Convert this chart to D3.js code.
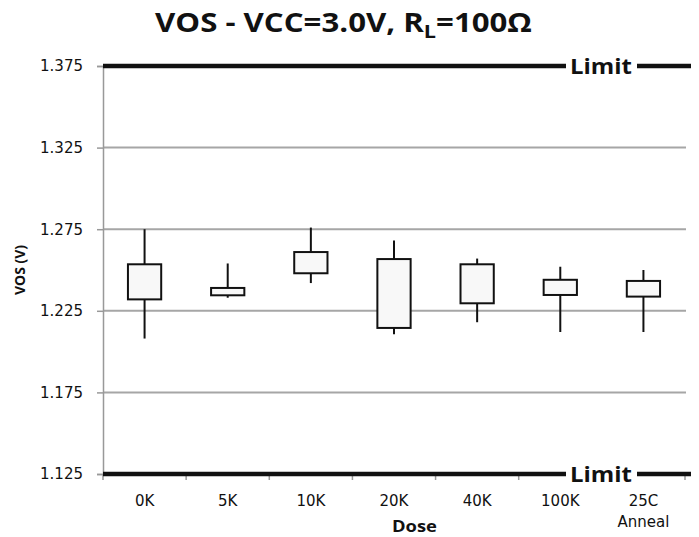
<!DOCTYPE html>
<html><head><meta charset="utf-8">
<script src="https://cdn.jsdelivr.net/npm/d3@7"></script>
<style>body{margin:0;background:#fff;} svg{display:block;}</style>
</head><body>
<script>
const categories = ["0K","5K","10K","20K","40K","100K","25C Anneal"];
const whiskerHigh = [1.275, 1.254, 1.276, 1.268, 1.257, 1.252, 1.250];
const boxHigh     = [1.2535, 1.239, 1.261, 1.2567, 1.2535, 1.244, 1.2433];
const boxLow      = [1.232, 1.2345, 1.248, 1.2145, 1.2296, 1.2347, 1.2337];
const whiskerLow  = [1.208, 1.233, 1.242, 1.2106, 1.218, 1.212, 1.212];
const yTicks = [1.125, 1.175, 1.225, 1.275, 1.325, 1.375];
const limits = [1.375, 1.125];

const W = 699, H = 537;
const svg = d3.select("body").append("svg").attr("width", W).attr("height", H);
const x = d3.scaleBand().domain(categories).range([103, 685]).paddingInner(0).paddingOuter(0);
const y = d3.scaleLinear().domain([1.125, 1.375]).range([474, 66]);

// stretch a text element horizontally so it spans targetW, centred on cx
function fitWidth(sel, targetW, cx) {
  const bb = sel.node().getBBox();
  const s = targetW / bb.width;
  sel.attr("transform", `translate(${cx},0) scale(${s},1) translate(${-cx},0)`);
}

// gridlines
svg.append("g").selectAll("line").data(yTicks.filter(t => !limits.includes(t))).join("line")
  .attr("x1", 103).attr("x2", 686).attr("y1", d => y(d)).attr("y2", d => y(d))
  .attr("stroke", "#a6a6a6").attr("stroke-width", 2);

// y axis
const yAxis = svg.append("g").attr("transform", "translate(103,0)")
  .call(d3.axisLeft(y).tickValues(yTicks).tickFormat(d3.format(".3f")).tickSize(6).tickPadding(14));
yAxis.select(".domain").attr("stroke", "#999").attr("stroke-width", 1.5);
yAxis.selectAll(".tick line").attr("stroke", "#999").attr("stroke-width", 1.5);
yAxis.selectAll("text").attr("font-family", "'DejaVu Sans', sans-serif").attr("font-size", 15).attr("fill", "#111");

// x axis
const xAxis = svg.append("g").attr("transform", "translate(0,474)");
xAxis.selectAll("line").data(d3.range(categories.length + 1)).join("line")
  .attr("x1", i => x.range()[0] + i * x.bandwidth()).attr("x2", i => x.range()[0] + i * x.bandwidth())
  .attr("y1", 0).attr("y2", 6).attr("stroke", "#999").attr("stroke-width", 1.5);
const xl = xAxis.selectAll("text").data(categories).join("text")
  .attr("x", d => x(d) + x.bandwidth() / 2).attr("y", 32)
  .attr("text-anchor", "middle").attr("font-family", "'DejaVu Sans', sans-serif")
  .attr("font-size", 15).attr("fill", "#111");
xl.each(function(d) {
  const parts = d.split(" ");
  const t = d3.select(this);
  parts.forEach((p, i) => t.append("tspan").attr("x", x(d) + x.bandwidth() / 2).attr("dy", i ? 21 : 0).text(p));
});

// limit lines
limits.forEach(v => {
  const g = svg.append("g");
  g.append("line").attr("x1", 103).attr("x2", 566).attr("y1", y(v)).attr("y2", y(v))
    .attr("stroke", "#111").attr("stroke-width", 4.5);
  g.append("line").attr("x1", 637).attr("x2", 691).attr("y1", y(v)).attr("y2", y(v))
    .attr("stroke", "#111").attr("stroke-width", 4.5);
  const t = g.append("text").attr("x", 601).attr("y", y(v) + 8).attr("text-anchor", "middle")
    .attr("font-family", "'Open Sans', sans-serif").attr("font-weight", "bold")
    .attr("font-size", 21).attr("fill", "#111").text("Limit");
  fitWidth(t, 62, 601);
});

// boxes
const bw = x.bandwidth() * 0.4;
const g = svg.append("g");
categories.forEach((c, i) => {
  const cx = x(c) + x.bandwidth() / 2;
  g.append("line").attr("x1", cx).attr("x2", cx).attr("y1", y(whiskerHigh[i])).attr("y2", y(boxHigh[i]))
    .attr("stroke", "#111").attr("stroke-width", 2);
  g.append("line").attr("x1", cx).attr("x2", cx).attr("y1", y(boxLow[i])).attr("y2", y(whiskerLow[i]))
    .attr("stroke", "#111").attr("stroke-width", 2);
  g.append("rect").attr("x", cx - bw / 2).attr("width", bw)
    .attr("y", y(boxHigh[i])).attr("height", y(boxLow[i]) - y(boxHigh[i]))
    .attr("fill", "#f8f8f8").attr("stroke", "#111").attr("stroke-width", 2);
});

// title
const title = svg.append("text").attr("x", 343.5).attr("y", 32).attr("text-anchor", "middle")
  .attr("font-family", "'Open Sans', sans-serif").attr("font-weight", "bold").attr("font-size", 26).attr("fill", "#111");
title.append("tspan").text("VOS - VCC=3.0V, R");
title.append("tspan").attr("font-size", 18).attr("dy", 6).text("L");
title.append("tspan").attr("dy", -6).text("=100Ω");
fitWidth(title, 377, 343.5);

// axis titles
const dose = svg.append("text").attr("x", 414.5).attr("y", 532).attr("text-anchor", "middle")
  .attr("font-family", "'Open Sans', sans-serif").attr("font-weight", "bold").attr("font-size", 16).attr("fill", "#111").text("Dose");
fitWidth(dose, 45, 414.5);
svg.append("text").attr("transform", "translate(25,270) rotate(-90)").attr("text-anchor", "middle")
  .attr("font-family", "'Open Sans', sans-serif").attr("font-weight", "bold").attr("font-size", 14).attr("fill", "#111").text("VOS (V)");
</script>
</body></html>
